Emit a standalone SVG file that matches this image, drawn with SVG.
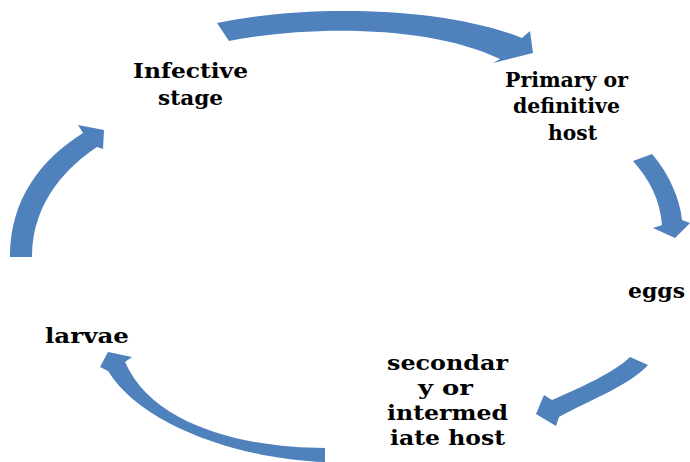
<svg xmlns="http://www.w3.org/2000/svg" width="690" height="462" viewBox="0 0 690 462">
<style>
.lbl{font-family:"DejaVu Serif","Liberation Serif","Noto Serif",serif;font-size:21px;font-weight:bold;fill:#000}
.arr{fill:#4F81BD;stroke:none}
</style>
<rect width="690" height="462" fill="#fff"/>
<g id="connectors">
<path class="arr" d="M217,23 C300,5 440,5 522,38 L530,31 L533,53 L493,63 L500,59 C430,25 310,25 229,41 Z"/>
<path class="arr" d="M633,161 L652,154 C670,175 680,200 682,220 L690,223 L675,238 L653,228 L662,225 C660,200 650,180 633,161 Z"/>
<path class="arr" d="M630,357 L648,365 C630,385 590,400 559,417 L556,426 L536,414 L544,395 L552,400 C580,388 615,372 630,357 Z"/>
<path class="arr" d="M325,448 C255,448 155,430 125,362 L132,357 L108,352 L100,367 L108,371 C145,430 250,460 325,462 Z"/>
<path class="arr" d="M10,257 C10,200 40,160 83,133 L78,125 L104,130 L103,149 L97,147 C70,165 32,200 32,257 Z"/>
</g>
<g id="infective">
<text class="lbl" x="133" y="78" textLength="115" lengthAdjust="spacingAndGlyphs">Infective</text>
<text class="lbl" x="158" y="105" textLength="65" lengthAdjust="spacingAndGlyphs">stage</text>
</g>
<g id="primary">
<text class="lbl" x="505" y="87" textLength="123" lengthAdjust="spacingAndGlyphs">Primary or</text>
<text class="lbl" x="513" y="113" textLength="107" lengthAdjust="spacingAndGlyphs">definitive</text>
<text class="lbl" x="548" y="140" textLength="49" lengthAdjust="spacingAndGlyphs">host</text>
</g>
<g id="eggs">
<text class="lbl" x="628" y="298" textLength="57" lengthAdjust="spacingAndGlyphs">eggs</text>
</g>
<g id="secondary">
<text class="lbl" x="387" y="370" textLength="121" lengthAdjust="spacingAndGlyphs">secondar</text>
<text class="lbl" x="418" y="395" textLength="55" lengthAdjust="spacingAndGlyphs">y or</text>
<text class="lbl" x="387" y="420" textLength="121" lengthAdjust="spacingAndGlyphs">intermed</text>
<text class="lbl" x="390" y="445" textLength="115" lengthAdjust="spacingAndGlyphs">iate host</text>
</g>
<g id="larvae">
<text class="lbl" x="45" y="343" textLength="84" lengthAdjust="spacingAndGlyphs">larvae</text>
</g>
</svg>
